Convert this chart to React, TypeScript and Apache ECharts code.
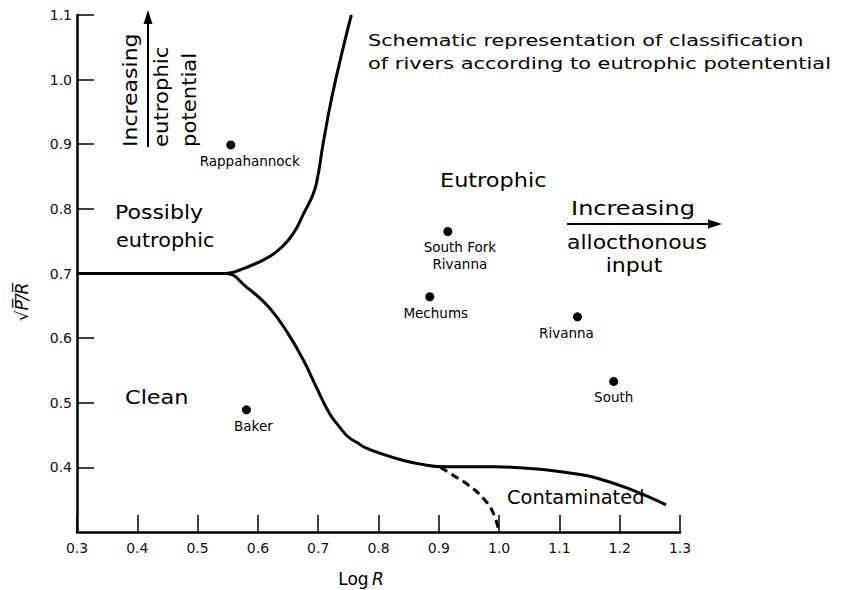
import React, { useEffect, useRef } from "react";
import * as echarts from "echarts";

// ---- data ----
const xTickMin = 0.3;
const xTickMax = 1.3;
const yTickMin = 0.3;
const yTickMax = 1.1;
const tickStep = 0.1;

// upper boundary: Clean/Possibly eutrophic -> Eutrophic
const upperBoundary: [number, number][] = [
  [0.30, 0.70], [0.42, 0.70], [0.50, 0.70], [0.547, 0.70], [0.577, 0.708], [0.607, 0.72], [0.63, 0.733],
  [0.65, 0.751], [0.664, 0.77], [0.676, 0.793], [0.688, 0.815], [0.697, 0.839], [0.708, 0.9], [0.722, 0.97],
  [0.739, 1.04], [0.755, 1.10],
];
// lower boundary: Clean -> Eutrophic / Contaminated
const lowerBoundary: [number, number][] = [
  [0.30, 0.70], [0.42, 0.70], [0.50, 0.70], [0.547, 0.70], [0.581, 0.679], [0.618, 0.648], [0.65, 0.607],
  [0.676, 0.565], [0.697, 0.524], [0.719, 0.483], [0.735, 0.463], [0.75, 0.447], [0.765, 0.438], [0.777, 0.431],
  [0.808, 0.42], [0.84, 0.411], [0.87, 0.405], [0.906, 0.401], [0.95, 0.401], [0.995, 0.401],
  [1.04, 0.399], [1.08, 0.396], [1.12, 0.391], [1.16, 0.384], [1.215, 0.367], [1.277, 0.342],
];
// dashed boundary: Eutrophic -> Contaminated
const dashedBoundary: [number, number][] = [
  [0.903, 0.400], [0.925, 0.387], [0.95, 0.372], [0.974, 0.352], [0.99, 0.33], [1.0, 0.30],
];

const riverNames = ["Rappahannock", "Baker", "South Fork\nRivanna", "Mechums", "Rivanna", "South"];
const riverLogR = [0.555, 0.581, 0.915, 0.885, 1.13, 1.19];
const riverRatio = [0.899, 0.489, 0.765, 0.664, 0.633, 0.533];

// label horizontal offsets (style)
const labelDx = [19, 7, 12, 6, -11, 0];

const FONT = "DejaVu Sans";

export default function App() {
  const ref = useRef<HTMLDivElement>(null);
  useEffect(() => {
    if (!ref.current) return;
    const chart = echarts.init(ref.current, null, { renderer: "svg" });
    const axisLine = { show: true, lineStyle: { color: "#000", width: 2.5 } };
    const axisTick = { show: true, inside: true, length: 17, lineStyle: { color: "#000", width: 1.5 } };
    const fmt = (v: number) => v.toFixed(1);
    const lineBase = {
      type: "line" as const,
      symbol: "none",
      smooth: 0.45,
      silent: true,
    };
    const txt = (x: number, y: number, text: string, size: number, align = "left", extra: any = {}) => ({
      type: "text",
      x,
      y,
      ...extra,
      style: {
        text,
        fill: "#000",
        font: `${size}px "${FONT}"`,
        align,
        verticalAlign: "middle",
      },
    });
    chart.setOption({
      animation: false,
      backgroundColor: "#fff",
      grid: { left: 77, right: 163, top: 15, bottom: 58, containLabel: false },
      xAxis: {
        type: "value",
        min: xTickMin,
        max: xTickMax,
        interval: tickStep,
        axisLine,
        axisTick,
        splitLine: { show: false },
        axisLabel: { formatter: fmt, color: "#111", fontSize: 14, fontFamily: FONT, margin: 9, showMaxLabel: true, showMinLabel: true },
      },
      yAxis: {
        type: "value",
        min: yTickMin,
        max: yTickMax,
        interval: tickStep,
        axisLine,
        axisTick,
        splitLine: { show: false },
        axisLabel: { formatter: fmt, color: "#111", fontSize: 14, fontFamily: FONT, margin: 5, showMinLabel: false, showMaxLabel: true },
      },
      series: [
        { ...lineBase, name: "upper", data: upperBoundary, lineStyle: { color: "#000", width: 3 } },
        { ...lineBase, name: "lower", data: lowerBoundary, lineStyle: { color: "#000", width: 3 } },
        { ...lineBase, name: "dashed", data: dashedBoundary, lineStyle: { color: "#000", width: 3, type: [8, 5] } },
        {
          type: "scatter",
          name: "rivers",
          symbolSize: 9,
          itemStyle: { color: "#000", opacity: 1 },
          data: riverNames.map((n, i) => ({
            name: n,
            value: [riverLogR[i], riverRatio[i]],
            label: { offset: [labelDx[i], 0] },
          })),
          label: {
            show: true,
            position: "bottom",
            distance: 3,
            formatter: (p: any) => p.name,
            color: "#000",
            fontSize: 13.5,
            fontFamily: FONT,
            lineHeight: 17,
          },
        },
      ],
      graphic: [
        txt(368, 40, "Schematic representation of classification", 16.5, "left", { scaleX: 1.26 }),
        txt(368, 63, "of rivers according to eutrophic potentential", 16.5, "left", { scaleX: 1.27 }),
        txt(115, 212, "Possibly", 20, "left", { scaleX: 1.1 }),
        txt(116, 240, "eutrophic", 20, "left", { scaleX: 1.04 }),
        txt(125, 397, "Clean", 20, "left", { scaleX: 1.12 }),
        txt(440, 180, "Eutrophic", 20, "left", { scaleX: 1.12 }),
        txt(507, 497, "Contaminated", 20, "left", { scaleX: 0.97 }),
        txt(633, 208, "Increasing", 20, "center", { scaleX: 1.2 }),
        txt(637, 242, "allocthonous", 20, "center", { scaleX: 1.1 }),
        txt(634, 265, "input", 20, "center", { scaleX: 1.1 }),
        { type: "line", shape: { x1: 567, y1: 224, x2: 712, y2: 224 }, style: { stroke: "#000", lineWidth: 2 } },
        { type: "polygon", shape: { points: [[722, 224], [708, 219.5], [708, 228.5]] }, style: { fill: "#000" } },
        txt(130, 147, "Increasing", 20, "left", { rotation: Math.PI / 2, scaleX: 1.1 }),
        txt(161, 147, "eutrophic", 20, "left", { rotation: Math.PI / 2, scaleX: 1.06 }),
        txt(189, 147, "potential", 20, "left", { rotation: Math.PI / 2, scaleX: 1.06 }),
        { type: "line", shape: { x1: 148, y1: 147, x2: 148, y2: 20 }, style: { stroke: "#000", lineWidth: 2 } },
        { type: "polygon", shape: { points: [[148, 10], [143.5, 24], [152.5, 24]] }, style: { fill: "#000" } },
        {
          type: "text",
          x: 22,
          y: 302,
          rotation: Math.PI / 2,
          style: {
            text: "√P\u0305/\u0305R\u0305",
            fill: "#000",
            font: `italic 17px "${FONT}"`,
            align: "center",
            verticalAlign: "middle",
          },
        },
        {
          type: "text",
          x: 361,
          y: 579,
          style: {
            text: "{a|Log} {b|R}",
            align: "center",
            verticalAlign: "middle",
            rich: {
              a: { fontSize: 17, fontFamily: FONT, fill: "#000", color: "#000" },
              b: { fontSize: 17, fontFamily: FONT, fontStyle: "italic", fill: "#000", color: "#000" },
            },
          },
        },
      ],
    });
    return () => chart.dispose();
  }, []);
  return <div ref={ref} style={{ position: "fixed", left: 0, top: 0, width: 843, height: 590 }} />;
}
